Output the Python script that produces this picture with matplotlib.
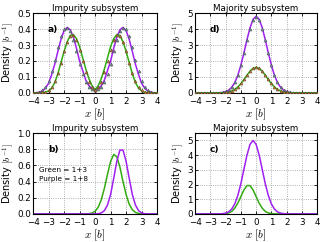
import numpy as np
import matplotlib
matplotlib.use("Agg")
import matplotlib.pyplot as plt

plt.rcParams["mathtext.fontset"] = "cm"

# ── colours ──────────────────────────────────────────────────────────────────
PURPLE = "#a020f0"
GREEN = "#33aa11"
GREY_MK = "#6f8a8a"
BROWN_MK = "#b0703a"

# common x grid, -4 ... 4 in steps of 0.2
x = np.linspace(-4, 4, 41)

# ── panel a: impurity, lines + triangles ─────────────────────────────────────
a_purple = [0.0, 0.001, 0.005, 0.012, 0.03, 0.06, 0.115, 0.18, 0.26, 0.335, 0.39,
            0.41, 0.395, 0.35, 0.28, 0.20, 0.14, 0.08, 0.045, 0.028, 0.02,
            0.028, 0.045, 0.08, 0.14, 0.20, 0.28, 0.35, 0.395, 0.41, 0.39,
            0.335, 0.26, 0.18, 0.115, 0.06, 0.03, 0.012, 0.005, 0.001, 0.0]
a_green = [0.0, 0.0, 0.0, 0.001, 0.004, 0.013, 0.03, 0.065, 0.12, 0.19, 0.26,
           0.32, 0.36, 0.365, 0.34, 0.29, 0.22, 0.15, 0.09, 0.045, 0.02,
           0.045, 0.09, 0.15, 0.22, 0.29, 0.34, 0.365, 0.36, 0.32, 0.26,
           0.19, 0.12, 0.065, 0.03, 0.013, 0.004, 0.001, 0.0, 0.0, 0.0]
a_grey = [0.0, 0.002, 0.006, 0.016, 0.038, 0.075, 0.135, 0.205, 0.285, 0.355, 0.40,
          0.405, 0.385, 0.33, 0.26, 0.18, 0.12, 0.07, 0.04, 0.025, 0.02,
          0.025, 0.04, 0.07, 0.12, 0.18, 0.26, 0.33, 0.385, 0.405, 0.40,
          0.355, 0.285, 0.205, 0.135, 0.075, 0.038, 0.016, 0.006, 0.002, 0.0]
a_brown = [0.0, 0.0, 0.001, 0.003, 0.008, 0.018, 0.04, 0.075, 0.125, 0.19, 0.26,
           0.32, 0.355, 0.36, 0.33, 0.27, 0.20, 0.13, 0.07, 0.035, 0.02,
           0.035, 0.07, 0.13, 0.20, 0.27, 0.33, 0.36, 0.355, 0.32, 0.26,
           0.19, 0.125, 0.075, 0.04, 0.018, 0.008, 0.003, 0.001, 0.0, 0.0]

# ── panel d: majority, lines + triangles ─────────────────────────────────────
d_purple = [0.0, 0.0, 0.0, 0.0, 0.0, 0.0, 0.002, 0.005, 0.013, 0.035, 0.08,
            0.175, 0.35, 0.65, 1.10, 1.73, 2.50, 3.33, 4.08, 4.61, 4.80,
            4.61, 4.08, 3.33, 2.50, 1.73, 1.10, 0.65, 0.35, 0.175, 0.08,
            0.035, 0.013, 0.005, 0.002, 0.0, 0.0, 0.0, 0.0, 0.0, 0.0]
d_green = [0.0, 0.0, 0.0, 0.0, 0.0, 0.0, 0.0, 0.002, 0.005, 0.012, 0.03,
           0.06, 0.12, 0.22, 0.37, 0.58, 0.83, 1.11, 1.36, 1.54, 1.60,
           1.54, 1.36, 1.11, 0.83, 0.58, 0.37, 0.22, 0.12, 0.06, 0.03,
           0.012, 0.005, 0.002, 0.0, 0.0, 0.0, 0.0, 0.0, 0.0, 0.0]
d_grey = [0.0, 0.0, 0.0, 0.0, 0.0, 0.0, 0.002, 0.006, 0.015, 0.04, 0.09,
          0.19, 0.37, 0.68, 1.13, 1.75, 2.50, 3.30, 4.02, 4.55, 4.75,
          4.55, 4.02, 3.30, 2.50, 1.75, 1.13, 0.68, 0.37, 0.19, 0.09,
          0.04, 0.015, 0.006, 0.002, 0.0, 0.0, 0.0, 0.0, 0.0, 0.0]
d_brown = [0.0, 0.0, 0.0, 0.0, 0.0, 0.0, 0.0, 0.002, 0.006, 0.014, 0.035,
           0.07, 0.13, 0.24, 0.40, 0.61, 0.86, 1.14, 1.40, 1.58, 1.65,
           1.58, 1.40, 1.14, 0.86, 0.61, 0.40, 0.24, 0.13, 0.07, 0.035,
           0.014, 0.006, 0.002, 0.0, 0.0, 0.0, 0.0, 0.0, 0.0, 0.0]

# ── panel b: impurity ────────────────────────────────────────────────────────
b_green = [0.0, 0.0, 0.0, 0.0, 0.0, 0.0, 0.0, 0.0, 0.0, 0.0, 0.0,
           0.0, 0.0, 0.0, 0.0, 0.0, 0.0, 0.0, 0.003, 0.011, 0.033,
           0.082, 0.175, 0.318, 0.49, 0.65, 0.736, 0.707, 0.58, 0.40, 0.24,
           0.12, 0.052, 0.019, 0.006, 0.002, 0.0, 0.0, 0.0, 0.0, 0.0]
b_purple = [0.0, 0.0, 0.0, 0.0, 0.0, 0.0, 0.0, 0.0, 0.0, 0.0, 0.0,
            0.0, 0.0, 0.0, 0.0, 0.0, 0.0, 0.0, 0.0, 0.0, 0.0,
            0.003, 0.012, 0.041, 0.11, 0.24, 0.44, 0.65, 0.79, 0.79, 0.65,
            0.44, 0.24, 0.11, 0.041, 0.012, 0.003, 0.0, 0.0, 0.0, 0.0]

# ── panel c: majority ────────────────────────────────────────────────────────
c_purple = [0.0, 0.0, 0.0, 0.0, 0.0, 0.0, 0.0, 0.0, 0.006, 0.019, 0.056,
            0.14, 0.33, 0.68, 1.25, 2.05, 3.03, 4.0, 4.73, 5.0, 4.73,
            4.0, 3.03, 2.05, 1.25, 0.68, 0.33, 0.14, 0.056, 0.019, 0.006,
            0.0, 0.0, 0.0, 0.0, 0.0, 0.0, 0.0, 0.0, 0.0, 0.0]
c_green = [0.0, 0.0, 0.0, 0.0, 0.0, 0.0, 0.0, 0.0, 0.001, 0.006, 0.022,
           0.066, 0.17, 0.39, 0.73, 1.18, 1.63, 1.93, 1.93, 1.63, 1.18,
           0.73, 0.39, 0.17, 0.066, 0.022, 0.006, 0.001, 0.0, 0.0, 0.0,
           0.0, 0.0, 0.0, 0.0, 0.0, 0.0, 0.0, 0.0, 0.0, 0.0]

xticks = [-4, -3, -2, -1, 0, 1, 2, 3, 4]


def style_axes(ax, title, label, ylim, yticks, yfmt):
    ax.set_xlim(-4, 4)
    ax.set_ylim(*ylim)
    ax.set_xticks(xticks)
    ax.set_xticklabels([str(t).replace("-", "\u2212") for t in xticks])
    ax.set_yticks(yticks)
    ax.set_yticklabels([yfmt.format(t) for t in yticks])
    ax.tick_params(direction="in", top=True, right=True, labelsize=6.3,
                   length=2.5, width=0.6)
    ax.tick_params(axis="x", pad=3)
    ax.tick_params(axis="y", pad=1.5)
    ax.grid(True, color="#999999", linestyle=":", linewidth=0.6)
    ax.set_title(title, fontsize=6.3, pad=1.5)
    ax.set_xlabel(r"$x\ [b]$", fontsize=8, labelpad=0)
    ax.set_ylabel(r"Density $[b^{-1}]$", fontsize=7, labelpad=1)
    ax.text(0.12, 0.85, label, transform=ax.transAxes, fontsize=6.5,
            fontweight="bold", va="top")
    for s in ax.spines.values():
        s.set_linewidth(0.8)


fig = plt.figure(figsize=(3.24, 2.42), dpi=100)

ax_a = fig.add_axes([0.102, 0.616, 0.383, 0.330])
ax_d = fig.add_axes([0.602, 0.616, 0.377, 0.330])
ax_b = fig.add_axes([0.102, 0.116, 0.383, 0.334])
ax_c = fig.add_axes([0.602, 0.116, 0.377, 0.334])

mk = dict(linestyle="none", marker="^", markersize=2.2, markeredgewidth=0.3,
          zorder=3)

# a)
ax_a.plot(x, a_purple, color=PURPLE, lw=1.1)
ax_a.plot(x, a_green, color=GREEN, lw=1.1)
ax_a.plot(x, a_grey, color=GREY_MK, markeredgecolor="#3c4c4c", **mk)
ax_a.plot(x, a_brown, color=BROWN_MK, markeredgecolor="#5a3a1a", **mk)
style_axes(ax_a, "Impurity subsystem", "a)", (0, 0.5),
           [0.0, 0.1, 0.2, 0.3, 0.4, 0.5], "{:.1f}")

# d)
ax_d.plot(x, d_purple, color=PURPLE, lw=1.1)
ax_d.plot(x, d_green, color=GREEN, lw=1.1)
ax_d.plot(x, d_grey, color=GREY_MK, markeredgecolor="#3c4c4c", **mk)
ax_d.plot(x, d_brown, color=BROWN_MK, markeredgecolor="#5a3a1a", **mk)
style_axes(ax_d, "Majority subsystem", "d)", (0, 5),
           [0, 1, 2, 3, 4, 5], "{:d}")

# b)
ax_b.plot(x, b_green, color=GREEN, lw=1.1)
ax_b.plot(x, b_purple, color=PURPLE, lw=1.1)
style_axes(ax_b, "Impurity subsystem", "b)", (0, 1.0),
           [0.0, 0.2, 0.4, 0.6, 0.8, 1.0], "{:.1f}")
ax_b.text(-3.6, 0.52, "Green = 1+3", fontsize=5.2)
ax_b.text(-3.6, 0.41, "Purple = 1+8", fontsize=5.2)

# c)
ax_c.plot(x, c_green, color=GREEN, lw=1.1)
ax_c.plot(x, c_purple, color=PURPLE, lw=1.1)
style_axes(ax_c, "Majority subsystem", "c)", (0, 5.5),
           [0, 1, 2, 3, 4, 5], "{:d}")

fig.savefig("out.png", dpi=100)
